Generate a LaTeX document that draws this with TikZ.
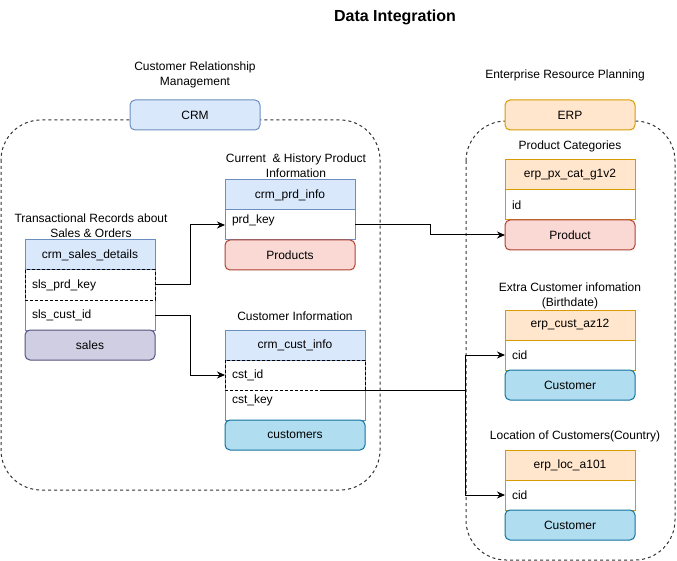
\documentclass[tikz,border=0pt]{standalone}
\usepackage{fontspec}
\setmainfont{Liberation Sans}
\usetikzlibrary{positioning, arrows.meta}

\definecolor{blueFill}{HTML}{DAE8FC}
\definecolor{blueLine}{HTML}{6C8EBF}
\definecolor{orangeFill}{HTML}{FFE6CC}
\definecolor{orangeLine}{HTML}{D79B00}
\definecolor{redFill}{HTML}{FAD9D5}
\definecolor{redLine}{HTML}{AE4132}
\definecolor{purpleFill}{HTML}{D0CEE2}
\definecolor{purpleLine}{HTML}{56517E}
\definecolor{cyanFill}{HTML}{B1DDF0}
\definecolor{cyanLine}{HTML}{10739E}

\begin{document}
\begin{tikzpicture}[x=1pt, y=-1pt, line width=1pt,
    font=\fontsize{12}{15}\selectfont,
    group/.style={draw=black!80, dash pattern=on 3pt off 3pt, rounded corners=40pt},
    tagbox/.style={rectangle, rounded corners=5pt, minimum width=#1, minimum height=30pt, inner sep=0pt, outer sep=0pt},
    tagbox/.default=130pt,
    row/.style={rectangle, minimum height=30pt, inner xsep=7pt, inner ysep=0pt, outer sep=0pt, text width=#1, align=left},
    row/.default=116pt,
    toprow/.style={text depth=11pt},
    dashrow/.style={draw=black, dash pattern=on 3pt off 2pt},
    link/.style={draw=black, -{Stealth[length=8pt, width=7pt]}}]
    \useasboundingbox (0,0) rectangle (677,561);

    \node (title) at (395,17) {\fontsize{16}{18}\selectfont\bfseries Data Integration};

    % groups
    \draw[group] (1,120) rectangle (380,490);
    \draw[group] (466,121) rectangle (675,560);
    \node (crmTitle) at (195,75) [align=center] {Customer Relationship\\Management};
    \node[tagbox, fill=blueFill, draw=blueLine] (crm) at (195,115) {CRM};
    \node (erpTitle) at (565,75) {Enterprise Resource Planning};
    \node[tagbox, fill=orangeFill, draw=orangeLine] (erp) at (570,115) {ERP};

    % crm_sales_details
    \node (salesDesc) at (91,225.5) [align=center] {Transactional Records about\\Sales \& Orders};
    \node[tagbox, rounded corners=0pt, fill=blueFill, draw=blueLine] (salesHead) at (90,255) {crm\_sales\_details};
    \node[row, below=0pt of salesHead] (slsPrd) {sls\_prd\_key};
    \node[row, below=0pt of slsPrd] (slsCust) {sls\_cust\_id};
    \draw[blueLine] (salesHead.north west) rectangle (slsCust.south east);
    \node[tagbox, fill=purpleFill, draw=purpleLine, below=0pt of slsCust] (sales) {sales};
    \draw[dashrow] (slsPrd.north west) rectangle (slsPrd.south east);

    % crm_prd_info
    \node (prdDesc) at (296,166) [align=center] {Current\ \ \& History Product\\Information};
    \node[tagbox, rounded corners=0pt, fill=blueFill, draw=blueLine] (prdHead) at (290,195) {crm\_prd\_info};
    \node[row, toprow, below=0pt of prdHead] (prdKey) {prd\_key};
    \draw[blueLine] (prdHead.north west) rectangle (prdKey.south east);
    \node[tagbox, fill=redFill, draw=redLine, below=0pt of prdKey] (products) {Products};

    % crm_cust_info
    \node (custDesc) at (295,316) {Customer Information};
    \node[tagbox=140pt, rounded corners=0pt, fill=blueFill, draw=blueLine] (custHead) at (295,345) {crm\_cust\_info};
    \node[row=126pt, below=0pt of custHead] (cstId) {cst\_id};
    \node[row=126pt, toprow, below=0pt of cstId] (cstKey) {cst\_key};
    \draw[blueLine] (custHead.north west) rectangle (cstKey.south east);
    \node[tagbox=140pt, fill=cyanFill, draw=cyanLine, below=0pt of cstKey] (customers) {customers};
    \draw[dashrow] (cstId.north west) rectangle (cstId.south east);

    % erp_px_cat_g1v2
    \node (catDesc) at (570,146) {Product Categories};
    \node[tagbox, rounded corners=0pt, fill=orangeFill, draw=orangeLine] (catHead) at (570,175) {erp\_px\_cat\_g1v2};
    \node[row, below=0pt of catHead] (catId) {id};
    \draw[orangeLine] (catHead.north west) rectangle (catId.south east);
    \node[tagbox, fill=redFill, draw=redLine, below=0pt of catId] (product) {Product};

    % erp_cust_az12
    \node (azDesc) at (570,295.5) [align=center] {Extra Customer infomation\\(Birthdate)};
    \node[tagbox, rounded corners=0pt, fill=orangeFill, draw=orangeLine] (azHead) at (570,325) {erp\_cust\_az12};
    \node[row, below=0pt of azHead] (azCid) {cid};
    \draw[orangeLine] (azHead.north west) rectangle (azCid.south east);
    \node[tagbox, fill=cyanFill, draw=cyanLine, below=0pt of azCid] (azCustomer) {Customer};

    % erp_loc_a101
    \node (locDesc) at (575,436) {Location of Customers(Country)};
    \node[tagbox, rounded corners=0pt, fill=orangeFill, draw=orangeLine] (locHead) at (570,465) {erp\_loc\_a101};
    \node[row, below=0pt of locHead] (locCid) {cid};
    \draw[orangeLine] (locHead.north west) rectangle (locCid.south east);
    \node[tagbox, fill=cyanFill, draw=cyanLine, below=0pt of locCid] (locCustomer) {Customer};

    % links
    \draw[link] (slsPrd.east) -- ++(35,0) |- (prdKey.west);
    \draw[link] (slsCust.east) -- ++(35,0) |- (cstId.west);
    \draw[link] (prdKey.east) -- ++(75,0) |- (product.west);
    \draw ([xshift=28pt]cstKey.north) -- ([xshift=100pt]cstKey.north east) coordinate (split);
    \draw[link] (split) |- (azCid.west);
    \draw[link] (split) |- (locCid.west);
\end{tikzpicture}
\end{document}
